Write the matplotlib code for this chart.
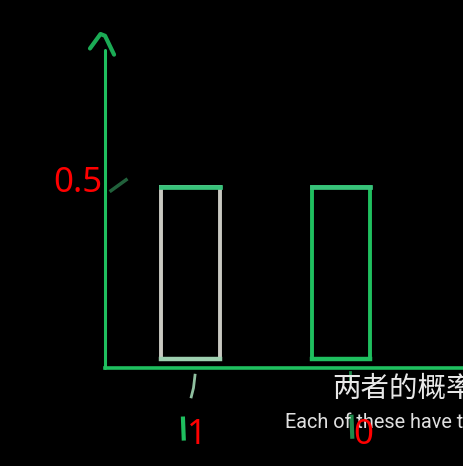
import matplotlib.pyplot as plt
from matplotlib.patches import Rectangle

# chart data
categories = ['1', '0']
probabilities = [0.5, 0.5]
y_tick_value = 0.5
y_tick_label = '0.5'
subtitle_zh = '两者的概率'
subtitle_en = 'Each of these have t'

green = '#1fbf5f'
pale = '#c9c9c2'

fig = plt.figure(figsize=(4.63, 4.66), dpi=100, facecolor='black')
ax = fig.add_axes([0, 0, 1, 1], facecolor='black')
ax.set_xlim(-1.266, 1.811)
ax.set_ylim(-0.271, 1.017)
ax.axis('off')

x_axis = -0.568
y_top = 0.878
positions = list(range(len(categories)))

# axes drawn by hand
ax.plot([x_axis, x_axis], [0, y_top], color=green, lw=2.2, solid_capstyle='round')
ax.plot([x_axis, 1.811], [0, 0], color=green, lw=2.6)
# hand-drawn arrow head
ax.plot([x_axis - 0.1, x_axis - 0.03, x_axis + 0.0, x_axis + 0.06],
        [y_top + 0.005, y_top + 0.045, y_top + 0.04, y_top - 0.012],
        color=green, lw=3, solid_capstyle='round', alpha=0.9)
# scribble near the 0.5 tick
ax.plot([x_axis + 0.04, x_axis + 0.14], [y_tick_value - 0.01, y_tick_value + 0.02],
        color='#2a7a4a', lw=2.5, alpha=0.8)

# bars (outline only, sitting slightly above the axis)
gap = 0.025
width = 0.39
edge_colors = [pale, green]
bottom_colors = ['#9ed0b0', green]
for pos, prob, ec, bc in zip(positions, probabilities, edge_colors, bottom_colors):
    ax.add_patch(Rectangle((pos - width / 2, gap), width, prob - gap,
                           fill=False, edgecolor=ec, lw=2.8))
    ax.plot([pos - width / 2, pos + width / 2], [prob, prob], color='#38c27a', lw=3.4)
    ax.plot([pos - width / 2, pos + width / 2], [gap, gap], color=bc, lw=3.2)

# hand-drawn tick marks under the x axis
ax.plot([positions[0] + 0.03, positions[0] + 0.02, positions[0] + 0.005],
        [-0.02, -0.055, -0.08], color='#8fbf9f', lw=2)
ax.plot([positions[1] + 0.06, positions[1] + 0.06], [-0.01, -0.035], color='#1e8a4a', lw=2)
ax.plot([positions[0] - 0.05, positions[0] - 0.045], [-0.14, -0.195], color=green, lw=3)
ax.plot([positions[1] + 0.07, positions[1] + 0.075], [-0.135, -0.19], color='#1e8a4a', lw=3)

# subtitles
ax.text(-0.06 + positions[1], -0.058, subtitle_zh, color='#e8e8e8', fontsize=20.5,
        family=['Noto Sans CJK SC', 'DejaVu Sans'], va='center', ha='left')
ax.text(-0.375 + positions[1], -0.152, subtitle_en, color='#e0e0e0', fontsize=14.3,
        family='Roboto', va='center', ha='left')

# red labels
ax.text(x_axis - 0.015, y_tick_value + 0.012, y_tick_label, color='#ff0000', fontsize=25,
        family='Noto Sans', va='center', ha='right')
for pos, label in zip(positions, categories):
    ax.text(pos + (0.045 if label == '1' else 0.15), -0.185, label, color='#ff0000',
            fontsize=25, family='Noto Sans', va='center', ha='center')

fig.savefig('out.png', dpi=100, facecolor='black')
